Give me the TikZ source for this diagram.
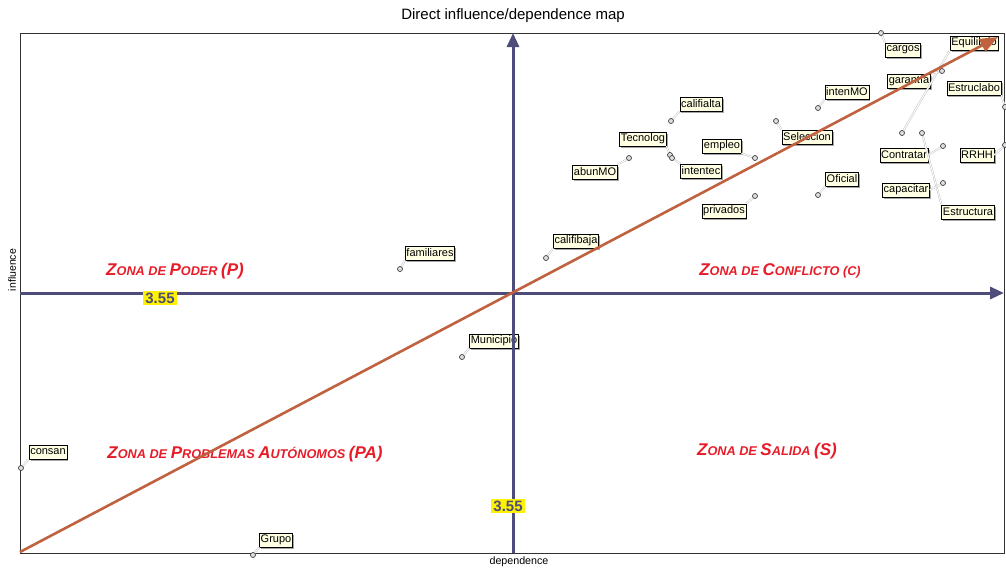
\documentclass[tikz,border=0pt]{standalone}
\usepackage{fontspec}
\setmainfont{Liberation Sans}
\usetikzlibrary{arrows.meta,shadows}
\definecolor{axisc}{RGB}{78,76,122}
\definecolor{diagc}{RGB}{192,98,64}
\definecolor{zonec}{RGB}{232,28,40}
\definecolor{boxc}{RGB}{255,255,228}
\newcommand{\zb}[1]{{\fontsize{17}{17}\selectfont #1}}
\newcommand{\zs}[1]{{\fontsize{12.7}{12.7}\selectfont #1}}
\begin{document}
\begin{tikzpicture}[x=1pt,y=-1pt,
  lbl/.style={draw=black, line width=0.6pt, fill=boxc, inner sep=1.2pt,
    font=\fontsize{11}{12}\selectfont, minimum height=14pt,
    drop shadow={shadow xshift=1.5pt,shadow yshift=-1.5pt,fill=gray!70,opacity=1}},
  pt/.style={circle, draw=gray!50!black, fill=gray!25, line width=0.7pt, minimum size=5pt, inner sep=0pt},
  lead/.style={draw=gray!55, line width=0.4pt, double=white, double distance=1pt},
  zone/.style={text=zonec, font=\bfseries\itshape, inner sep=0pt},
  val/.style={fill=yellow, text=axisc, font=\bfseries\fontsize{15}{15}\selectfont, inner sep=2pt},
  axisline/.style={axisc, line width=3pt, -{Triangle[length=14pt,width=12pt]}},
  diagline/.style={diagc, line width=2.6pt, -{Triangle[length=18pt,width=14pt]}}]
\useasboundingbox (0,0) rectangle (1006,571);
\fill[white] (0,0) rectangle (1006,571);

% title and frame
\node[font=\fontsize{15}{15}\selectfont] (title) at (513,16) {Direct influence/dependence map};
\draw[gray!40!black, line width=0.8pt] (20,33) rectangle (1004,553);

% points
\coordinate (p1) at (881,33);
\coordinate (p2) at (902,133);
\coordinate (p3) at (942,71);
\coordinate (p4) at (1005,107);
\coordinate (p5) at (1005,145);
\coordinate (p6) at (943,146);
\coordinate (p7) at (922,133);
\coordinate (p8) at (943,183);
\coordinate (p9) at (818,108);
\coordinate (p10) at (776,121);
\coordinate (p11) at (818,195);
\coordinate (p12) at (671,121);
\coordinate (p13) at (670,155);
\coordinate (p14) at (672,158);
\coordinate (p15) at (755,158);
\coordinate (p16) at (629,158);
\coordinate (p17) at (755,196);
\coordinate (p18) at (546,258);
\coordinate (p19) at (400,269);
\coordinate (p20) at (462,357);
\coordinate (p21) at (21,468);
\coordinate (p22) at (253,555);

% labels
\node[lbl] (cargos) at (903,50) {cargos};
\node[lbl] (equilib) at (974,43) {Equilibrio};
\node[lbl] (garantia) at (909,81) {garantía};
\node[lbl] (estruclabo) at (974,88) {Estruclabo};
\node[lbl] (rrhh) at (977,155) {RRHH};
\node[lbl] (contratar) at (904,155) {Contratar};
\node[lbl] (estructura) at (968,212) {Estructura};
\node[lbl] (capacitar) at (906,190) {capacitar};
\node[lbl] (intenmo) at (847,92) {intenMO};
\node[lbl] (seleccion) at (807,137) {Seleccion};
\node[lbl] (oficial) at (842,179) {Oficial};
\node[lbl] (califialta) at (701,104) {califialta};
\node[lbl] (tecnolog) at (643,139) {Tecnolog};
\node[lbl] (intentec) at (701,171) {intentec};
\node[lbl] (empleo) at (722,146) {empleo};
\node[lbl] (abunmo) at (595,172) {abunMO};
\node[lbl] (privados) at (724,211) {privados};
\node[lbl] (califibaja) at (576,241) {califibaja};
\node[lbl] (familiares) at (430,253) {familiares};
\node[lbl] (municipio) at (494,341) {Municipio};
\node[lbl] (consan) at (48,452) {consan};
\node[lbl] (grupo) at (276,540) {Grupo};

% leaders
\draw[lead] (p1) -- (cargos.north west);
\draw[lead] (p2) -- (equilib.south west);
\draw[lead] (p3) -- (garantia.north east);
\draw[lead] (p4) -- (estruclabo.south east);
\draw[lead] (p5) -- (rrhh.east);
\draw[lead] (p6) -- (contratar.east);
\draw[lead] (p7) -- (estructura.north west);
\draw[lead] (p8) -- (capacitar.east);
\draw[lead] (p9) -- (intenmo.south west);
\draw[lead] (p10) -- (seleccion.north west);
\draw[lead] (p11) -- (oficial.south west);
\draw[lead] (p12) -- (califialta.south west);
\draw[lead] (p13) -- (tecnolog.south east);
\draw[lead] (p14) -- (intentec.north west);
\draw[lead] (p15) -- (empleo.south east);
\draw[lead] (p16) -- (abunmo.north east);
\draw[lead] (p17) -- (privados.north east);
\draw[lead] (p18) -- (califibaja.south west);
\draw[lead] (p19) -- (familiares.south west);
\draw[lead] (p20) -- (municipio.south west);
\draw[lead] (p21) -- (consan.south west);
\draw[lead] (p22) -- (grupo.south west);

% markers
\foreach \i in {1,...,22} { \node[pt] (m\i) at (p\i) {}; }

% zones
\node[zone] (zp) at (175,271) {\zb{Z}\zs{ONA DE }\zb{P}\zs{ODER }\zb{(P)}};
\node[zone] (zc) at (780,271) {\zb{Z}\zs{ONA DE }\zb{C}\zs{ONFLICTO (C)}};
\node[zone] (zpa) at (245,454) {\zb{Z}\zs{ONA DE }\zb{P}\zs{ROBLEMAS }\zb{A}\zs{UTÓNOMOS }\zb{(PA)}};
\node[zone] (zsal) at (767,451) {\zb{Z}\zs{ONA DE }\zb{S}\zs{ALIDA }\zb{(S)}};

% axes
\coordinate (vb) at (513,553);
\coordinate (vt) at (513,33);
\coordinate (hl) at (20,293);
\coordinate (hr) at (1004,293);
\coordinate (dl) at (20,552);
\coordinate (dr) at (998,37);
\draw[axisline] (vb) -- (vt);
\draw[axisline] (hl) -- (hr);
\draw[diagline] (dl) -- (dr);

% values
\node[val] (v1) at (160,298) {3.55};
\node[val] (v2) at (508,506) {3.55};

% axis labels
\node[rotate=90, font=\fontsize{10.5}{10.5}\selectfont] (ylab) at (12,270) {influence};
\node[font=\fontsize{10.7}{10.7}\selectfont] (xlab) at (519,562) {dependence};
\end{tikzpicture}
\end{document}
